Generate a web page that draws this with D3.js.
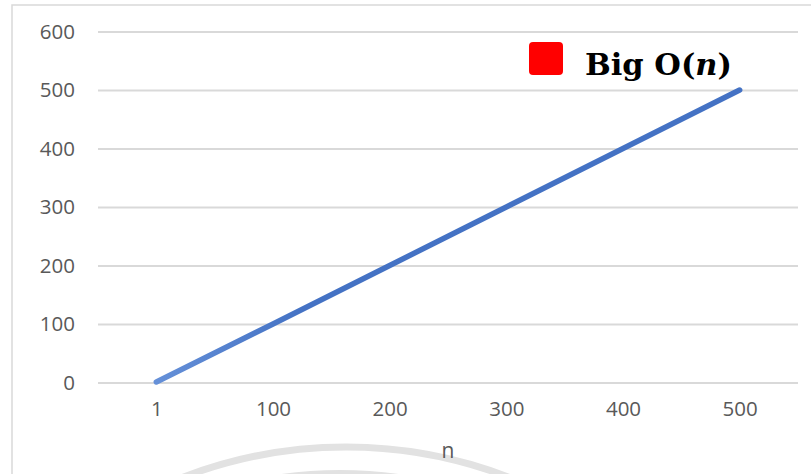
<!DOCTYPE html>
<html>
<head>
<meta charset="utf-8">
<script src="https://cdn.jsdelivr.net/npm/d3@7"></script>
<style>
  html, body { margin: 0; padding: 0; background: #ffffff; }
  svg { display: block; }
</style>
</head>
<body>
<svg id="chart" width="811" height="474"></svg>
<script>
const categories = ["1", "100", "200", "300", "400", "500"];
const values = [1, 100, 200, 300, 400, 500];
const yTicks = [0, 100, 200, 300, 400, 500, 600];
const xTitle = "n";
const legendLabel = ["Big O(", "n", ")"];

const svg = d3.select("#chart");

// chart frame
svg.append("rect").attr("x", 12).attr("y", 5).attr("width", 820).attr("height", 500)
  .attr("fill", "#ffffff").attr("stroke", "#D9D9D9").attr("stroke-width", 1.5);

// watermark arcs
const wm = svg.append("g").attr("fill", "none").attr("stroke", "#E2E2E2");
wm.append("circle").attr("cx", 346).attr("cy", 447 + 454).attr("r", 454).attr("stroke-width", 7);
wm.append("circle").attr("cx", 340).attr("cy", 473 + 420).attr("r", 420).attr("stroke-width", 6);

const plotLeft = 98, plotRight = 798;
const band = (plotRight - plotLeft) / categories.length;
const x = d3.scalePoint().domain(categories)
  .range([plotLeft + band / 2, plotRight - band / 2]);
const y = d3.scaleLinear().domain([0, 600]).range([382.5, 31.5]);

const font = "'Open Sans', 'Noto Sans', sans-serif";

// y axis with gridlines
const yAxis = svg.append("g").attr("transform", `translate(${plotLeft},0)`)
  .call(d3.axisLeft(y).tickValues(yTicks).tickSize(-(plotRight - plotLeft)).tickPadding(23));
yAxis.select(".domain").remove();
yAxis.selectAll(".tick line").attr("stroke", "#D9D9D9").attr("stroke-width", 2);
yAxis.selectAll(".tick text").attr("fill", "#595959")
  .style("font-size", "20.5px").style("font-family", font);

// x axis labels
const xAxis = svg.append("g").attr("transform", `translate(0,${y(0)})`)
  .call(d3.axisBottom(x).tickSize(0).tickPadding(19));
xAxis.select(".domain").remove();
xAxis.selectAll(".tick text").attr("fill", "#595959")
  .style("font-size", "20.5px").style("font-family", font);

// axis title
svg.append("text").attr("x", 448).attr("y", 458).attr("text-anchor", "middle")
  .attr("fill", "#595959").style("font-size", "21px").style("font-family", font).text(xTitle);

// gradient for line
const defs = svg.append("defs");
const grad = defs.append("linearGradient").attr("id", "lg")
  .attr("gradientUnits", "userSpaceOnUse")
  .attr("x1", x(categories[0])).attr("x2", x(categories[categories.length - 1]))
  .attr("y1", 0).attr("y2", 0);
grad.append("stop").attr("offset", "0%").attr("stop-color", "#6590D8");
grad.append("stop").attr("offset", "25%").attr("stop-color", "#4472C4");
grad.append("stop").attr("offset", "100%").attr("stop-color", "#4472C4");

const data = categories.map((c, i) => ({ c, v: values[i] }));
svg.append("path").datum(data)
  .attr("fill", "none").attr("stroke", "url(#lg)").attr("stroke-width", 5.5)
  .attr("stroke-linecap", "round").attr("stroke-linejoin", "round")
  .attr("d", d3.line().x(d => x(d.c)).y(d => y(d.v)));

// legend
svg.append("rect").attr("x", 529).attr("y", 42).attr("width", 34).attr("height", 33)
  .attr("rx", 4).attr("fill", "#FF0000");
const lt = svg.append("text").attr("x", 585).attr("y", 75)
  .style("font-family", "'DejaVu Serif', 'Liberation Serif', serif")
  .style("font-size", "30.5px").style("font-weight", "bold").attr("fill", "#000000");
lt.append("tspan").text(legendLabel[0]);
lt.append("tspan").style("font-style", "italic").text(legendLabel[1]);
lt.append("tspan").text(legendLabel[2]);
</script>
</body>
</html>
